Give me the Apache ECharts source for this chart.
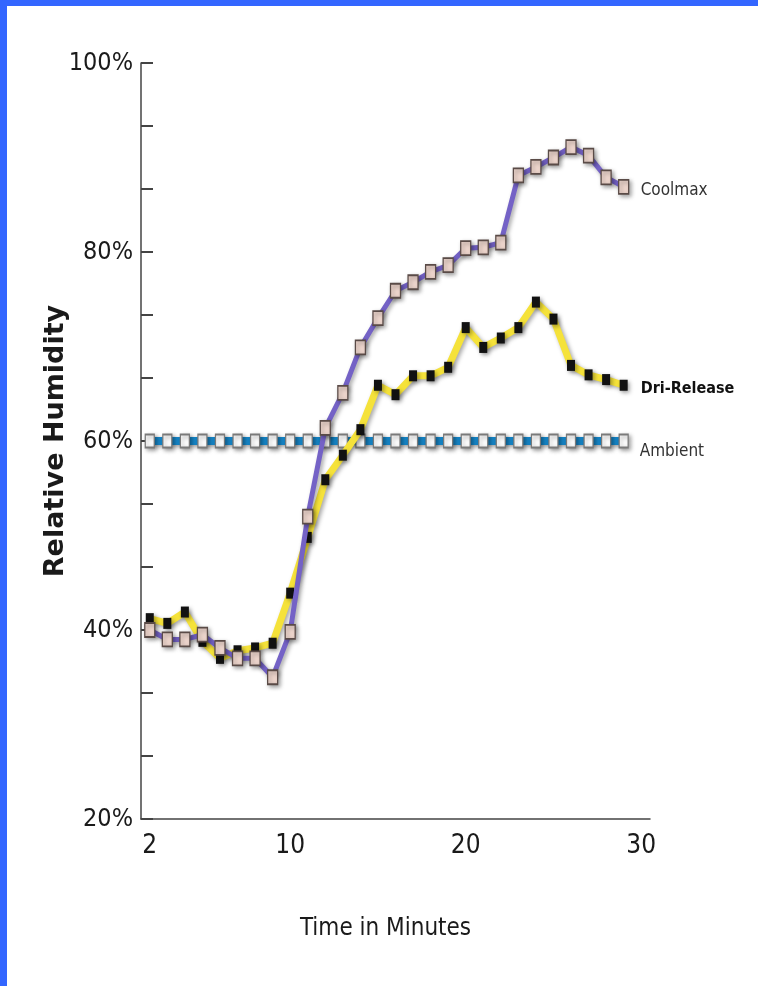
<!DOCTYPE html>
<html>
<head>
<meta charset="utf-8">
<script src="https://cdn.jsdelivr.net/npm/echarts@6/dist/echarts.min.js"></script>
<style>
html,body{margin:0;padding:0;background:#fff;}
#chart{position:absolute;left:0;top:0;width:758px;height:986px;}
#bl{position:absolute;left:0;top:0;width:7px;height:986px;background:#3366ff;z-index:5;}
#bt{position:absolute;left:0;top:0;width:758px;height:6px;background:#3366ff;z-index:5;}
</style>
</head>
<body>
<div id="chart"></div>
<div id="bl"></div>
<div id="bt"></div>
<script>
const minutes = [2,3,4,5,6,7,8,9,10,11,12,13,14,15,16,17,18,19,20,21,22,23,24,25,26,27,28,29];
const coolmax = [40,39,39,39.5,38.1,37,37,35,39.8,52,61.4,65.1,69.9,73,75.9,76.8,77.9,78.6,80.4,80.5,81,88.1,89,90,91.1,90.2,87.9,86.9];
const driRelease = [41.2,40.7,41.9,38.8,37,37.8,38.1,38.6,43.9,49.8,55.9,58.5,61.2,65.9,64.9,66.9,66.9,67.8,72,69.9,70.9,72,74.7,72.9,68,67,66.5,65.9];
const ambient = [60,60,60,60,60,60,60,60,60,60,60,60,60,60,60,60,60,60,60,60,60,60,60,60,60,60,60,60];
const xTickLabels = [2,10,20,30];
const yTickLabels = [20,40,60,80,100];
const yMinorTicks = [20,26.6667,33.3333,40,46.6667,53.3333,60,66.6667,73.3333,80,86.6667,93.3333,100];

const pair = arr => minutes.map((m,i)=>[m,arr[i]]);
const narrow = '"Liberation Sans Narrow","DejaVu Sans Condensed","Roboto Condensed",sans-serif';
const shadow = {shadowColor:'rgba(0,0,0,0.35)',shadowBlur:4,shadowOffsetX:2,shadowOffsetY:2};

const chart = echarts.init(document.getElementById('chart'), null, {renderer:'canvas'});
chart.setOption({
  animation:false,
  backgroundColor:'#ffffff',
  grid:{left:141,right:108,top:63,bottom:167,containLabel:false},
  xAxis:{
    type:'value',min:1.5,max:30.5,
    axisLine:{show:true,lineStyle:{color:'#444',width:1.5}},
    axisTick:{show:false},
    splitLine:{show:false},
    axisLabel:{customValues:xTickLabels,margin:14,fontFamily:narrow,fontSize:26,color:'#1a1a1a'},
    name:'Time in Minutes',nameLocation:'middle',nameGap:98,nameMoveOverlap:false,
    nameTextStyle:{fontFamily:narrow,fontSize:24,color:'#1a1a1a',padding:[0,20,0,0]}
  },
  yAxis:{
    type:'value',min:20,max:100,
    axisLine:{show:true,lineStyle:{color:'#444',width:1.5}},
    axisTick:{show:true,inside:true,length:12,customValues:yMinorTicks,lineStyle:{color:'#444',width:2}},
    splitLine:{show:false},
    axisLabel:{customValues:yTickLabels,margin:8,fontFamily:narrow,fontSize:25,color:'#1a1a1a',formatter:v=>v+'%'},
    name:'Relative Humidity',nameLocation:'middle',nameGap:72,nameRotate:90,nameMoveOverlap:false,
    nameTextStyle:{fontFamily:'"DejaVu Sans",sans-serif',fontWeight:'bold',fontSize:27,color:'#1a1a1a'}
  },
  series:[
    {
      name:'Ambient',type:'line',data:pair(ambient),z:2,
      symbol:'rect',symbolSize:[9,13],
      lineStyle:Object.assign({color:'#1787c9',width:8},shadow),
      itemStyle:Object.assign({color:'#ffffff',borderColor:'#7a7a7a',borderWidth:1.5},shadow),
      endLabel:{show:true,formatter:'Ambient',distance:16,offset:[0,11],fontFamily:narrow,fontSize:17,color:'#333'}
    },
    {
      name:'Dri-Release',type:'line',data:pair(driRelease),z:3,
      symbol:'rect',symbolSize:[8,11],
      lineStyle:Object.assign({color:'#f5e23a',width:7},shadow),
      itemStyle:Object.assign({color:'#111111',borderColor:'#111',borderWidth:0},shadow),
      endLabel:{show:true,formatter:'Dri-Release',distance:17,offset:[0,4],fontFamily:narrow,fontWeight:'bold',fontSize:16,color:'#111'}
    },
    {
      name:'Coolmax',type:'line',data:pair(coolmax),z:4,
      symbol:'rect',symbolSize:[10,14],
      lineStyle:Object.assign({color:'#7462c6',width:5},shadow),
      itemStyle:Object.assign({color:'#eed6cd',borderColor:'#5a4b47',borderWidth:1.5},shadow),
      endLabel:{show:true,formatter:'Coolmax',distance:17,offset:[0,4],fontFamily:narrow,fontSize:17,color:'#333'}
    }
  ]
});
</script>
</body>
</html>
